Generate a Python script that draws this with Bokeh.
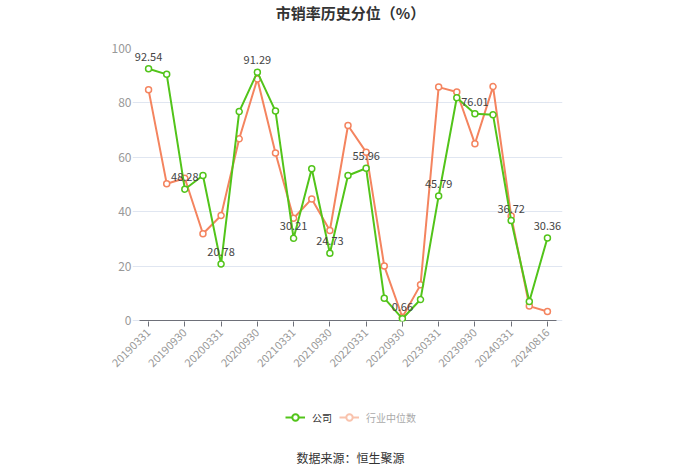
import math
from bokeh.plotting import figure
from bokeh.layouts import column
from bokeh.models import (ColumnDataSource, FixedTicker, Label, Legend, LegendItem,
                          Range1d)
from bokeh.core.properties import value
from bokeh.embed import file_html
from bokeh.resources import INLINE

dates = ["20190331", "20190630", "20190930", "20191231", "20200331", "20200630",
         "20200930", "20201231", "20210331", "20210630", "20210930", "20211231",
         "20220331", "20220630", "20220930", "20221231", "20230331", "20230630",
         "20230930", "20231231", "20240331", "20240630", "20240816"]
company = [92.54, 90.5, 48.28, 53.3, 20.78, 76.8, 91.29, 77.0, 30.21, 55.8, 24.73, 53.3,
           55.96, 8.2, 0.66, 7.7, 45.79, 81.9, 76.01, 75.6, 36.72, 7.0, 30.36]
industry = [84.8, 50.3, 52.3, 31.9, 38.6, 66.8, 88.8, 61.6, 37.6, 44.7, 33.1, 71.7,
            61.9, 20.0, 1.2, 13.1, 85.8, 84.0, 65.0, 86.0, 38.4, 5.3, 3.3]
title_text = "市销率历史分位（%）"
source_text = "数据来源：恒生聚源"
series_names = ["公司", "行业中位数"]

FONT = "Noto Sans CJK SC"
GREEN = "#52C41A"
ORANGE = "#F4845F"
PALE_ORANGE = "#F9C3AD"

n = len(dates)
xs = list(range(n))
PX_PER_X = 18.13

W = 700
H_TOP, H_MAIN, H_BOT = 24, 356, 93
BL, BR = 132, 138  # left / right borders shared by all strips


def strip(height):
    f = figure(width=W, height=height, output_backend="svg", toolbar_location=None,
               x_range=Range1d(BL, W - BR), y_range=Range1d(height, 0),
               x_axis_type=None, y_axis_type=None,
               min_border_left=BL, min_border_right=BR, min_border_top=0,
               min_border_bottom=0)
    f.outline_line_color = None
    f.xgrid.grid_line_color = None
    f.ygrid.grid_line_color = None
    return f


# top strip: title
t = strip(H_TOP)
t.add_layout(Label(x=350, y=12, text=title_text, text_align="center",
                   text_baseline="middle", text_font=FONT, text_font_size="15px",
                   text_font_style="bold", text_color="#333333"))

# main chart
p = figure(width=W, height=H_MAIN, output_backend="svg", toolbar_location=None,
           x_range=Range1d(-0.5 - 7 / PX_PER_X, n - 0.5 + 6 / PX_PER_X),
           y_range=Range1d(-1 / 2.72, 100),
           min_border_left=BL, min_border_right=BR, min_border_top=24,
           min_border_bottom=59)
p.outline_line_color = None
p.border_fill_color = "white"

p.xaxis.ticker = FixedTicker(ticks=[i for i in xs if i % 2 == 0])
p.xaxis.major_label_overrides = {i: d for i, d in enumerate(dates)}
p.xaxis.major_label_orientation = math.pi / 4
p.xaxis.axis_line_color = None
p.xaxis.major_tick_line_color = "#6E7079"
p.xaxis.major_tick_out = 5
p.xaxis.major_tick_in = 0
p.xaxis.minor_tick_line_color = None
p.xaxis.major_label_text_color = "#999999"
p.xaxis.major_label_text_font = FONT
p.xaxis.major_label_text_font_size = "11px"
p.xaxis.major_label_standoff = 4
p.xgrid.grid_line_color = None

p.yaxis.ticker = FixedTicker(ticks=[0, 20, 40, 60, 80, 100])
p.yaxis.axis_line_color = None
p.yaxis.major_tick_line_color = None
p.yaxis.major_tick_out = 0
p.yaxis.major_tick_in = 0
p.yaxis.minor_tick_line_color = None
p.yaxis.major_label_text_color = "#999999"
p.yaxis.major_label_text_font = FONT
p.yaxis.major_label_text_font_size = "12px"
p.yaxis.major_label_standoff = 1
p.ygrid.grid_line_color = "#E0E6F1"

# x-axis baseline over the category band only
p.segment(x0=[-0.5], x1=[n - 0.5], y0=[0], y1=[0], line_color="#6E7079", line_width=1)

src = ColumnDataSource(dict(x=xs, c=company, i=industry))
p.line("x", "i", source=src, line_color=ORANGE, line_width=2)
p.scatter("x", "i", source=src, size=6, marker="circle", fill_color="white",
          line_color=ORANGE, line_width=1.5)
p.line("x", "c", source=src, line_color=GREEN, line_width=2)
p.scatter("x", "c", source=src, size=6, marker="circle", fill_color="white",
          line_color=GREEN, line_width=1.5)

lab_x = [i for i in xs if i % 2 == 0]
lab_y = [company[i] for i in lab_x]
lab_t = [f"{company[i]:.2f}" for i in lab_x]
lsrc = ColumnDataSource(dict(x=lab_x, y=lab_y, t=lab_t))
p.text("x", "y", text="t", source=lsrc, text_align="center", text_baseline="middle",
       y_offset=-12, text_font=value(FONT), text_font_size="11px", text_color="#444444")

# bottom strip: legend + source
b = strip(H_BOT)
OFF = [-1000]  # legend-only renderers, kept outside the visible range
g1 = b.line(x=OFF, y=OFF, line_color=GREEN, line_width=2)
g2 = b.scatter(x=OFF, y=OFF, size=9, marker="circle", fill_color="white",
               line_color=GREEN, line_width=2)
o1 = b.line(x=OFF, y=OFF, line_color=PALE_ORANGE, line_width=2)
o2 = b.scatter(x=OFF, y=OFF, size=9, marker="circle", fill_color="white",
               line_color=PALE_ORANGE, line_width=2)

common = dict(orientation="horizontal", label_text_font=FONT, label_text_font_size="10px",
              background_fill_alpha=0, border_line_color=None, padding=0, margin=0,
              glyph_width=20, glyph_height=16, label_standoff=7, label_height=16)
leg1 = Legend(items=[LegendItem(label=series_names[0], renderers=[g1, g2])],
              location=(285 - BL, 48), label_text_color="#333333", **common)
leg2 = Legend(items=[LegendItem(label=series_names[1], renderers=[o1, o2])],
              location=(339 - BL, 48), label_text_color="#AAAAAA", **common)
b.add_layout(leg1, "center")
b.add_layout(leg2, "center")

b.add_layout(Label(x=350, y=457 - H_TOP - H_MAIN, text=source_text, text_align="center",
                   text_baseline="middle", text_font=FONT, text_font_size="12px",
                   text_color="#333333"))

layout = column(t, p, b, spacing=0)
open("out.html", "w").write(file_html(layout, INLINE))
